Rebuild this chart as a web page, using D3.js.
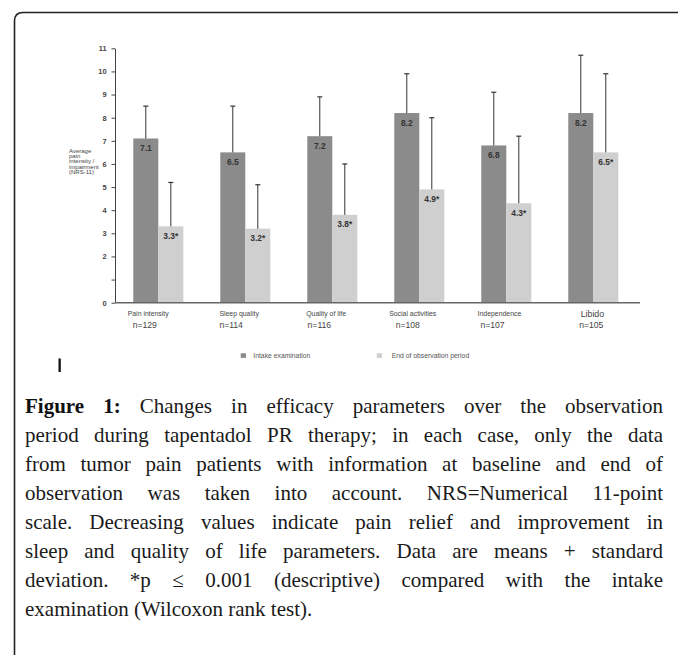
<!DOCTYPE html>
<html><head><meta charset="utf-8">
<script src="https://cdn.jsdelivr.net/npm/d3@7"></script>
<style>body{margin:0;background:#fff}svg{display:block}</style></head>
<body><svg id="c" width="678" height="655"></svg>
<script>
// ---------- data ----------
const categories = ["Pain intensity","Sleep quality","Quality of life","Social activities","Independence","Libido"];
const sampleSizes = ["n=129","n=114","n=116","n=108","n=107","n=105"];
const seriesNames = ["Intake examination","End of observation period"];
const intakeMean = [7.1,6.5,7.2,8.2,6.8,8.2];
const intakeSD   = [1.4,2.0,1.7,1.7,2.3,2.5];
const endMean    = [3.3,3.2,3.8,4.9,4.3,6.5];
const endSD      = [1.9,1.9,2.2,3.1,2.9,3.4];
const intakeLabels = ["7.1","6.5","7.2","8.2","6.8","8.2"];
const endLabels    = ["3.3*","3.2*","3.8*","4.9*","4.3*","6.5*"];
const yTicks      = [0,1,2,3,4,5,6,7,8,9,10,11];
const yTickLabels = ["0","","2","3","4","5","6","7","8","9","10","11"];
const yTitleLines = ["Average","pain","intensity /","impairment","(NRS-11)"];
const captionLines = [
 "Figure 1: Changes in efficacy parameters over the observation",
 "period during tapentadol PR therapy; in each case, only the data",
 "from tumor pain patients with information at baseline and end of",
 "observation was taken into account. NRS=Numerical 11-point",
 "scale. Decreasing values indicate pain relief and improvement in",
 "sleep and quality of life parameters. Data are means + standard",
 "deviation. *p \u2264 0.001 (descriptive) compared with the intake",
 "examination (Wilcoxon rank test)."
];

// ---------- layout ----------
const colors = ["#8b8b8b","#cfcfcf"];
const catDx = [-5.6,-0.9,-1.1,-5.1,-3.7,12.4];
const nDx   = [-0.6,-0.9,0.3,1.4,-0.9,11];
const sans = "'Liberation Sans', Arial, sans-serif";

const svg = d3.select("#c");

// frame
svg.append("path").attr("d","M14.5,655 V21 Q14.5,12.5 23,12.5 H678")
  .attr("fill","none").attr("stroke","#222").attr("stroke-width",1.6);

const y = d3.scaleLinear().domain([0,11]).range([302.7,48.3]);
const x = d3.scaleBand().domain(categories).range([133.3,618.3]).paddingInner(0.425);
const sub = d3.scaleBand().domain([0,1]).range([0,x.bandwidth()]);

const data = categories.map((c,i)=>({c,i,vals:[
  {s:0,m:intakeMean[i],sd:intakeSD[i],lab:intakeLabels[i]},
  {s:1,m:endMean[i],sd:endSD[i],lab:endLabels[i]}]}));

// y axis
const ax = svg.append("g").attr("transform","translate(115,0)")
  .call(d3.axisLeft(y).tickValues(yTicks).tickFormat((d,i)=>yTickLabels[i]).tickSize(3.5).tickSizeOuter(0).tickPadding(5));
ax.select(".domain").attr("stroke","#444").attr("stroke-width",1);
ax.selectAll(".tick line").attr("stroke","#444");
ax.selectAll(".tick text").attr("font-family",sans).attr("font-size",7.4).attr("font-weight","bold").attr("fill","#444");

// y title
svg.append("g").selectAll("text").data(yTitleLines).join("text")
  .attr("x",69).attr("y",(d,i)=>152.5+i*5.4)
  .attr("font-family",sans).attr("font-size",6).attr("fill","#444").text(d=>d);

// bars
const g = svg.append("g").selectAll("g").data(data).join("g")
  .attr("transform",d=>`translate(${x(d.c)},0)`);
g.selectAll("rect").data(d=>d.vals).join("rect")
  .attr("x",d=>sub(d.s)).attr("width",sub.bandwidth())
  .attr("y",d=>y(d.m)).attr("height",d=>y(0)-y(d.m))
  .attr("fill",d=>colors[d.s]);
// error bars
g.selectAll("line.err").data(d=>d.vals).join("line").attr("class","err")
  .attr("x1",d=>sub(d.s)+sub.bandwidth()/2).attr("x2",d=>sub(d.s)+sub.bandwidth()/2)
  .attr("y1",d=>y(d.m)).attr("y2",d=>y(d.m+d.sd)).attr("stroke","#333").attr("stroke-width",1);
g.selectAll("line.cap").data(d=>d.vals).join("line").attr("class","cap")
  .attr("x1",d=>sub(d.s)+sub.bandwidth()/2-2.5).attr("x2",d=>sub(d.s)+sub.bandwidth()/2+2.5)
  .attr("y1",d=>y(d.m+d.sd)).attr("y2",d=>y(d.m+d.sd)).attr("stroke","#333").attr("stroke-width",1.2);
// value labels
g.selectAll("text.v").data(d=>d.vals).join("text").attr("class","v")
  .attr("x",d=>sub(d.s)+sub.bandwidth()/2).attr("y",d=>y(d.m)+12.5)
  .attr("text-anchor","middle").attr("font-family",sans).attr("font-size",8.4).attr("font-weight","bold")
  .attr("fill","#333").text(d=>d.lab);

// baseline
svg.append("line").attr("x1",115).attr("x2",640).attr("y1",y(0)).attr("y2",y(0))
  .attr("stroke","#666").attr("stroke-width",1.5);

// category labels
svg.append("g").selectAll("text").data(categories).join("text")
  .attr("x",(d,i)=>x(d)+catDx[i]).attr("y",(d,i)=>i===5?316.5:315.5)
  .attr("font-family",sans).attr("font-size",(d,i)=>i===5?8.8:6.9).attr("fill","#444").text(d=>d);
svg.append("g").selectAll("text").data(sampleSizes).join("text")
  .attr("x",(d,i)=>x(categories[i])+nDx[i]).attr("y",328)
  .attr("font-family",sans).attr("font-size",8.6).attr("fill","#444").text(d=>d);

// legend
const legX = [240.7,376.7];
const lg = svg.append("g").selectAll("g").data(seriesNames).join("g")
  .attr("transform",(d,i)=>`translate(${legX[i]},353.3)`);
lg.append("rect").attr("width",5.3).attr("height",4.6).attr("fill",(d,i)=>colors[i]);
lg.append("text").attr("x",(d,i)=>i===0?12.6:15).attr("y",5)
  .attr("font-family",sans).attr("font-size",6.8).attr("fill","#555").text(d=>d);

// small mark
svg.append("rect").attr("x",58.5).attr("y",358.5).attr("width",2.3).attr("height",13.5).attr("fill","#111");

// caption, justified
const capL = 25, capR = 663, capSize = 21, capFont = "'Liberation Serif', 'Times New Roman', serif";
const cap = svg.append("g");
captionLines.forEach((line,li)=>{
  const words = line.split(" ");
  const by = 412.5 + li*29;
  const nodes = words.map((w,wi)=>{
    const t = cap.append("text").attr("y",by).attr("font-family",capFont).attr("font-size",capSize)
      .attr("fill","#1a1a1a").text(w);
    if(li===0 && wi<2) t.attr("font-weight","bold").attr("fill","#111");
    return t;
  });
  const widths = nodes.map(n=>n.node().getComputedTextLength());
  const total = d3.sum(widths);
  const last = li===captionLines.length-1;
  const space = capSize*0.25;
  const gap = last ? space : (capR-capL-total)/(words.length-1);
  let cx = capL;
  nodes.forEach((n,k)=>{ n.attr("x",cx); cx += widths[k]+gap; });
});
</script></body></html>
